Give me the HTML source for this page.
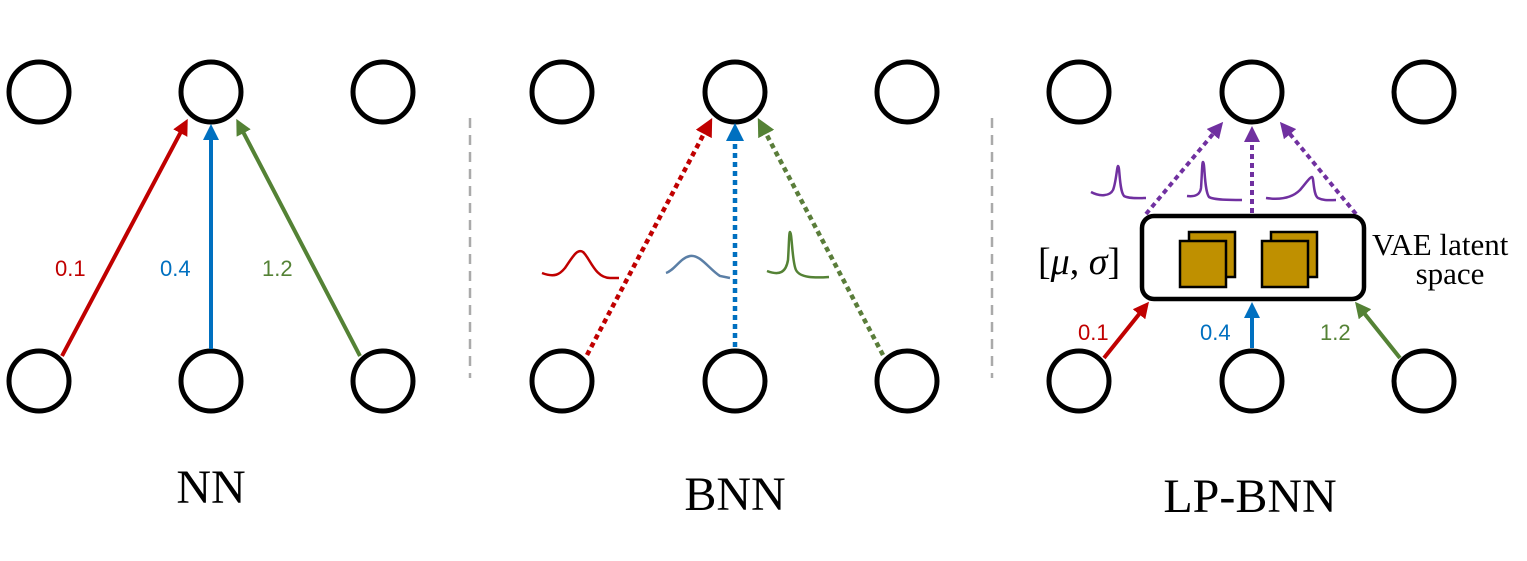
<!DOCTYPE html>
<html><head><meta charset="utf-8"><style>
html,body{margin:0;padding:0;background:#fff;}
svg{display:block;}
.lbl{font-family:"Liberation Sans",sans-serif;font-size:22px;}
.ttl{font-family:"Liberation Serif",serif;font-size:48px;}
</style></head><body>
<svg width="1527" height="561" viewBox="0 0 1527 561" xmlns="http://www.w3.org/2000/svg">
<defs>
<marker id="ar" markerWidth="4" markerHeight="4" refX="2" refY="2" orient="auto" markerUnits="strokeWidth"><path d="M0,0 L4,2 L0,4 z" fill="#c00000"/></marker>
<marker id="ab" markerWidth="4" markerHeight="4" refX="2" refY="2" orient="auto" markerUnits="strokeWidth"><path d="M0,0 L4,2 L0,4 z" fill="#0070c0"/></marker>
<marker id="ag" markerWidth="4" markerHeight="4" refX="2" refY="2" orient="auto" markerUnits="strokeWidth"><path d="M0,0 L4,2 L0,4 z" fill="#548235"/></marker>
<marker id="ap" markerWidth="4" markerHeight="4" refX="2" refY="2" orient="auto" markerUnits="strokeWidth"><path d="M0,0 L4,2 L0,4 z" fill="#7030a0"/></marker>
</defs>
<g fill="none" stroke="#000" stroke-width="5">
<circle cx="39" cy="92" r="30"/><circle cx="211" cy="92" r="30"/><circle cx="383" cy="92" r="30"/>
<circle cx="39" cy="381" r="30"/><circle cx="211" cy="381" r="30"/><circle cx="383" cy="381" r="30"/>
<circle cx="562" cy="92" r="30"/><circle cx="735" cy="92" r="30"/><circle cx="907" cy="92" r="30"/>
<circle cx="562" cy="381" r="30"/><circle cx="735" cy="381" r="30"/><circle cx="907" cy="381" r="30"/>
<circle cx="1079" cy="92" r="30"/><circle cx="1252" cy="92" r="30"/><circle cx="1424" cy="92" r="30"/>
<circle cx="1079" cy="381" r="30"/><circle cx="1252" cy="381" r="30"/><circle cx="1424" cy="381" r="30"/>
</g>
<g stroke="#aaa" stroke-width="2.5" stroke-dasharray="10,7">
<line x1="470" y1="118" x2="470" y2="378"/><line x1="992" y1="118" x2="992" y2="378"/>
</g>
<!-- NN -->
<line x1="62" y1="356" x2="184" y2="126" stroke="#c00000" stroke-width="4" marker-end="url(#ar)"/>
<line x1="211" y1="349" x2="211" y2="132" stroke="#0070c0" stroke-width="4" marker-end="url(#ab)"/>
<line x1="360" y1="356" x2="240" y2="126" stroke="#548235" stroke-width="4" marker-end="url(#ag)"/>
<text x="55" y="276" class="lbl" fill="#c00000">0.1</text>
<text x="160" y="276" class="lbl" fill="#0070c0">0.4</text>
<text x="262" y="276" class="lbl" fill="#548235">1.2</text>
<!-- BNN -->
<line x1="587" y1="355" x2="708" y2="126" stroke="#c00000" stroke-width="4.5" stroke-dasharray="5,4" marker-end="url(#ar)"/>
<line x1="735" y1="347" x2="735" y2="132" stroke="#0070c0" stroke-width="4.5" stroke-dasharray="5,4" marker-end="url(#ab)"/>
<line x1="883" y1="355" x2="762" y2="126" stroke="#5a7d3a" stroke-width="4.5" stroke-dasharray="5,4" marker-end="url(#ag)"/>
<path d="M542,273 C555,278 560,274 565,268 C572,258 577,248 583,252 C590,258 595,278 610,278 L619,278" fill="none" stroke="#c00000" stroke-width="2.5"/>
<path d="M666,273 C675,270 680,258 690,256 C700,254 710,270 720,276 L730,278" fill="none" stroke="#5b7fa6" stroke-width="2.5"/>
<path d="M767,271 C780,276 786,272 788,260 C789,245 789,232 790,232 C792,232 792,262 796,270 C800,278 815,278 829,277" fill="none" stroke="#548235" stroke-width="2.5"/>
<!-- LP-BNN -->
<line x1="1146" y1="214" x2="1218" y2="128" stroke="#7030a0" stroke-width="4" stroke-dasharray="5,4" marker-end="url(#ap)"/>
<line x1="1252" y1="213" x2="1252" y2="134" stroke="#7030a0" stroke-width="4" stroke-dasharray="5,4" marker-end="url(#ap)"/>
<line x1="1356" y1="214" x2="1285" y2="128" stroke="#7030a0" stroke-width="4" stroke-dasharray="5,4" marker-end="url(#ap)"/>
<path d="M1091,192 C1100,197 1110,196 1113,190 C1116,183 1117,166 1118,166 C1120,166 1119,190 1124,196 C1129,199 1140,198 1146,198" fill="none" stroke="#7030a0" stroke-width="2.5"/>
<path d="M1187,196 C1195,197 1200,195 1201,188 C1202,175 1202,162 1203,162 C1205,162 1204,190 1209,197 C1214,200 1230,200 1242,200" fill="none" stroke="#7030a0" stroke-width="2.5"/>
<path d="M1266,198 C1280,200 1292,198 1300,190 C1306,183 1310,177 1312,177 C1314,177 1313,195 1318,198 C1324,201 1330,200 1336,200" fill="none" stroke="#7030a0" stroke-width="2.5"/>
<rect x="1142" y="216" width="222" height="83" rx="12" fill="#fff" stroke="#000" stroke-width="4.5"/>
<g fill="#bf9000" stroke="#000" stroke-width="2.5">
<rect x="1189" y="232" width="46" height="45"/><rect x="1180" y="241" width="46" height="46"/>
<rect x="1271" y="232" width="46" height="45"/><rect x="1262" y="241" width="46" height="46"/>
</g>
<line x1="1104" y1="358" x2="1144" y2="308" stroke="#c00000" stroke-width="4" marker-end="url(#ar)"/>
<line x1="1252" y1="348" x2="1252" y2="310" stroke="#0070c0" stroke-width="4" marker-end="url(#ab)"/>
<line x1="1400" y1="358" x2="1360" y2="308" stroke="#548235" stroke-width="4" marker-end="url(#ag)"/>
<text x="1078" y="340" class="lbl" fill="#c00000">0.1</text>
<text x="1200" y="340" class="lbl" fill="#0070c0">0.4</text>
<text x="1320" y="340" class="lbl" fill="#548235">1.2</text>
<text x="1038" y="274" font-family="Liberation Serif,serif" font-size="38">[<tspan font-style="italic">μ</tspan>, <tspan font-style="italic">σ</tspan>]</text>
<text x="1372" y="255" font-family="Liberation Serif,serif" font-size="31">VAE latent</text>
<text x="1450" y="284" font-family="Liberation Serif,serif" font-size="31" text-anchor="middle">space</text>
<text x="211" y="503" class="ttl" text-anchor="middle">NN</text>
<text x="735" y="510" class="ttl" text-anchor="middle">BNN</text>
<text x="1250" y="512" class="ttl" text-anchor="middle">LP-BNN</text>
</svg>
</body></html>
